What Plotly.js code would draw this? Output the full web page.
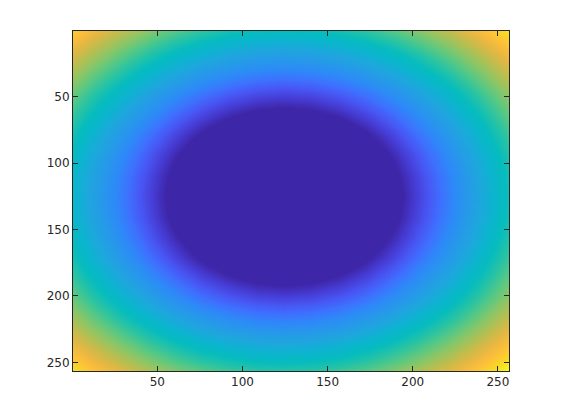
<!DOCTYPE html>
<html>
<head>
<meta charset="utf-8">
<script src="https://cdn.plot.ly/plotly-3.0.1.min.js"></script>
<style>
  html, body { margin: 0; padding: 0; background: #ffffff; }
  #plot { width: 564px; height: 418px; }
</style>
</head>
<body>
<div id="plot"></div>
<script>
// sample node positions (image columns / rows), denser around the bowl centre
var colPos = [0.5, 12.5, 28.5, 44.5, 60.5, 76.5, 92.5, 108.5, 124.5,
	140.5, 156.5, 172.5, 188.5, 204.5, 220.5, 236.5, 252.5, 256.5];
var rowPos = [0.5, 17.31, 32.69, 48.08, 63.46, 78.85, 94.23, 109.62, 125,
	140.38, 155.77, 171.15, 186.54, 201.92, 217.31, 232.69, 248.08, 256.5];

// intensity at each node; the dark middle is flat below floorLevel
var levels = [
	[179.3, 171.2, 161.2, 152.2, 144.4, 138.1, 133.3, 130.4, 129.4, 130.4, 133.3, 138.1, 144.4, 152.2, 161.2, 171.2, 182.0, 184.9],
	[167.1, 158.4, 147.5, 137.6, 129.0, 121.9, 116.5, 113.1, 112.0, 113.1, 116.5, 121.9, 129.0, 137.6, 147.5, 158.4, 170.1, 173.1],
	[156.8, 147.5, 135.8, 125.0, 115.4, 107.3, 101.2,  97.3,  96.0,  97.3, 101.2, 107.3, 115.4, 125.0, 135.8, 147.5, 160.0, 163.2],
	[147.6, 137.6, 125.0, 113.1, 102.4,  93.3,  86.2,  81.6,  80.0,  81.6,  86.2,  93.3, 102.4, 113.1, 125.0, 137.6, 150.9, 154.3],
	[139.5, 129.0, 115.4, 102.4,  90.5,  80.0,  71.6,  66.0,  64.0,  66.0,  71.6,  80.0,  90.5, 102.4, 115.4, 129.0, 143.1, 146.7],
	[133.0, 121.9, 107.3,  93.3,  80.0,  67.9,  57.7,  50.6,  48.0,  50.6,  57.7,  67.9,  80.0,  93.3, 107.3, 121.9, 136.7, 140.5],
	[128.1, 116.5, 101.2,  86.2,  71.6,  57.7,  45.3,  35.8,  32.0,  35.8,  45.3,  57.7,  71.6,  86.2, 101.2, 116.5, 131.9, 135.8],
	[125.0, 113.1,  97.3,  81.6,  66.0,  50.6,  35.8,  22.6,  16.0,  22.6,  35.8,  50.6,  66.0,  81.6,  97.3, 113.1, 129.0, 133.0],
	[124.0, 112.0,  96.0,  80.0,  64.0,  48.0,  32.0,  16.0,   0.0,  16.0,  32.0,  48.0,  64.0,  80.0,  96.0, 112.0, 128.0, 132.0],
	[125.0, 113.1,  97.3,  81.6,  66.0,  50.6,  35.8,  22.6,  16.0,  22.6,  35.8,  50.6,  66.0,  81.6,  97.3, 113.1, 129.0, 133.0],
	[128.1, 116.5, 101.2,  86.2,  71.6,  57.7,  45.3,  35.8,  32.0,  35.8,  45.3,  57.7,  71.6,  86.2, 101.2, 116.5, 131.9, 135.8],
	[133.0, 121.9, 107.3,  93.3,  80.0,  67.9,  57.7,  50.6,  48.0,  50.6,  57.7,  67.9,  80.0,  93.3, 107.3, 121.9, 136.7, 140.5],
	[139.5, 129.0, 115.4, 102.4,  90.5,  80.0,  71.6,  66.0,  64.0,  66.0,  71.6,  80.0,  90.5, 102.4, 115.4, 129.0, 143.1, 146.7],
	[147.6, 137.6, 125.0, 113.1, 102.4,  93.3,  86.2,  81.6,  80.0,  81.6,  86.2,  93.3, 102.4, 113.1, 125.0, 137.6, 150.9, 154.3],
	[156.8, 147.5, 135.8, 125.0, 115.4, 107.3, 101.2,  97.3,  96.0,  97.3, 101.2, 107.3, 115.4, 125.0, 135.8, 147.5, 160.0, 163.2],
	[167.1, 158.4, 147.5, 137.6, 129.0, 121.9, 116.5, 113.1, 112.0, 113.1, 116.5, 121.9, 129.0, 137.6, 147.5, 158.4, 170.1, 173.1],
	[178.2, 170.1, 160.0, 150.9, 143.1, 136.7, 131.9, 129.0, 128.0, 129.0, 131.9, 136.7, 143.1, 150.9, 160.0, 170.1, 181.0, 183.9],
	[184.6, 176.8, 167.1, 158.5, 151.0, 145.0, 140.5, 137.7, 136.8, 137.7, 140.5, 145.0, 151.0, 158.5, 167.1, 176.8, 187.3, 190.1]
];
var floorLevel = 70;
var peakLevel = 190.1;

var tickVals = [50, 100, 150, 200, 250];

// parula-like colour map
var parulaColors = [
	'rgb(62,38,168)', 'rgb(70,60,212)', 'rgb(72,86,243)', 'rgb(61,114,254)',
	'rgb(45,138,247)', 'rgb(38,153,233)', 'rgb(30,166,221)', 'rgb(12,180,207)',
	'rgb(6,188,190)', 'rgb(40,195,164)', 'rgb(87,200,132)', 'rgb(138,198,103)',
	'rgb(184,190,80)', 'rgb(226,183,67)', 'rgb(253,190,58)', 'rgb(246,218,39)',
	'rgb(249,251,21)'
];
var parula = parulaColors.map(function(c, i) {
	return [i / (parulaColors.length - 1), c];
});

var traces = [{
	type: 'heatmap',
	x: colPos,
	y: rowPos,
	z: levels,
	zmin: floorLevel,
	zmax: peakLevel,
	zsmooth: 'best',
	colorscale: parula,
	showscale: false,
	hoverinfo: 'skip'
}];

var axisStyle = {
	tickmode: 'array',
	tickvals: tickVals,
	ticks: 'inside',
	ticklen: 5,
	tickwidth: 1,
	tickcolor: '#262626',
	showline: true,
	linecolor: '#262626',
	linewidth: 1,
	mirror: 'ticks',
	showgrid: false,
	zeroline: false,
	tickfont: { family: 'DejaVu Sans, sans-serif', size: 12, color: '#262626' }
};

var layout = {
	width: 564, height: 418,
	margin: { l: 73, r: 55, t: 31, b: 47 },
	paper_bgcolor: '#ffffff',
	plot_bgcolor: '#ffffff',
	showlegend: false,
	xaxis: Object.assign({}, axisStyle, { range: [0.5, 256.5] }),
	yaxis: Object.assign({}, axisStyle, { range: [256.5, 0.5] })
};

Plotly.newPlot('plot', traces, layout, { displayModeBar: false, staticPlot: true });
</script>
</body>
</html>
